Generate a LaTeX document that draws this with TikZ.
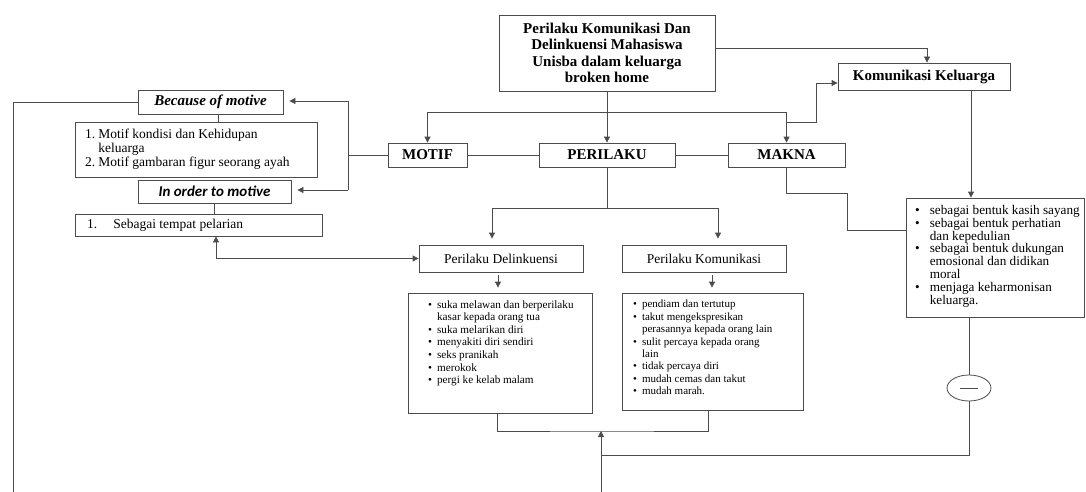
\documentclass[tikz,border=0pt]{standalone}
\usepackage{fontspec}
\setmainfont{Liberation Serif}
\newfontfamily\carl{Carlito}
\usetikzlibrary{arrows.meta,shapes.geometric}
\definecolor{linec}{gray}{0.3}
\begin{document}
\begin{tikzpicture}[x=1pt,y=-1pt,
  box/.style={draw=linec,line width=0.8pt,inner sep=0pt},
  ln/.style={draw=linec,line width=0.8pt},
  arr/.style={ln,-{Triangle[length=6pt,width=6pt]}},
  bf/.style={font=\fontsize{15}{16.5}\selectfont\bfseries},
  rm/.style={font=\fontsize{13.5}{14}\selectfont},
  txt/.style={anchor=north west,inner sep=0pt},
]
\useasboundingbox (0,0) rectangle (1086,492);

% boxes
\node[box,minimum width=216pt,minimum height=76pt,align=center,bf] (title) at (607,53)
  {Perilaku Komunikasi Dan\\Delinkuensi Mahasiswa\\Unisba dalam keluarga\\broken home};
\node[box,minimum width=172pt,minimum height=27pt,bf] (kk) at (924,76.5) {Komunikasi Keluarga};
\node[box,minimum width=136pt,minimum height=24pt,bf] (per) at (607,155) {PERILAKU};
\node[box,minimum width=79pt,minimum height=24pt,bf] (motif) at (427.5,155) {MOTIF};
\node[box,minimum width=117pt,minimum height=24pt,bf] (makna) at (786.5,155) {MAKNA};

\node[box,minimum width=145pt,minimum height=24pt,font=\fontsize{15}{16.5}\selectfont\bfseries\itshape] (because) at (210.5,102) {Because of motive};
\node[box,minimum width=242pt,minimum height=55pt] (motifbox) at (196,149.5) {};
\node[txt,rm] (motiftext) at (85,128.5)
  {\begin{tabular}{@{}l@{\hspace{3pt}}l@{}}1. & Motif kondisi dan Kehidupan\\ & keluarga\\ 2. & Motif gambaran figur seorang ayah\end{tabular}};
\node[box,minimum width=153pt,minimum height=23pt,font=\carl\fontsize{15}{16.5}\selectfont\bfseries\itshape] (inorder) at (214.5,191.5) {In order to motive};
\node[box,minimum width=247pt,minimum height=22pt] (sebagai) at (198.5,225) {};
\node[anchor=west,inner sep=0pt,rm] (sebtext) at (87,225) {1.\hspace{16pt}Sebagai tempat pelarian};

\node[box,minimum width=164pt,minimum height=27pt,rm] (pdel) at (501,258.5) {Perilaku Delinkuensi};
\node[box,minimum width=164pt,minimum height=27pt,rm] (pkom) at (704,258.5) {Perilaku Komunikasi};

\node[box,minimum width=184pt,minimum height=120pt] (ldel) at (500,353) {};
\node[txt,font=\fontsize{11.2}{12.6}\selectfont] (ldeltext) at (428,299)
  {\begin{tabular}{@{}l@{\hspace{5pt}}l@{}}
   \textbullet & suka melawan dan berperilaku\\
   & kasar kepada orang tua\\
   \textbullet & suka melarikan diri\\
   \textbullet & menyakiti diri sendiri\\
   \textbullet & seks pranikah\\
   \textbullet & merokok\\
   \textbullet & pergi ke kelab malam
   \end{tabular}};
\node[box,minimum width=181pt,minimum height=117pt] (lkom) at (712.5,351.5) {};
\node[txt,font=\fontsize{11}{12.4}\selectfont] (lkomtext) at (633,299)
  {\begin{tabular}{@{}l@{\hspace{5pt}}l@{}}
   \textbullet & pendiam dan tertutup\\
   \textbullet & takut mengekspresikan\\
   & perasannya kepada orang lain\\
   \textbullet & sulit percaya kepada orang\\
   & lain\\
   \textbullet & tidak percaya diri\\
   \textbullet & mudah cemas dan takut\\
   \textbullet & mudah marah.
   \end{tabular}};

\node[box,minimum width=178pt,minimum height=119pt] (rbox) at (995,257.5) {};
\node[txt,font=\fontsize{13.2}{12.4}\selectfont] (rtext) at (915,205)
  {\begin{tabular}{@{}l@{\hspace{10pt}}l@{}}
   \textbullet & sebagai bentuk kasih sayang\\
   \textbullet & sebagai bentuk perhatian\\
   & dan kepedulian\\
   \textbullet & sebagai bentuk dukungan\\
   & emosional dan didikan\\
   & moral\\
   \textbullet & menjaga keharmonisan\\
   & keluarga.
   \end{tabular}};

\node[draw=linec,line width=0.8pt,ellipse,minimum width=44pt,minimum height=26pt,inner sep=0pt] (circ) at (969,388) {};
\draw[ln] ([xshift=-9pt]circ.center) -- ([xshift=9pt]circ.center);

% connectors
\draw[arr] ([yshift=5pt]title.east) -| ([xshift=3pt]kk.north);
\draw[arr] (title.south) -- (per.north);
\coordinate (jR) at (786.5,112);
\draw[arr] (jR) -| (motif.north);
\draw[arr] (jR) -- (makna.north);
\coordinate (b1) at (786.5,122);
\coordinate (b2) at (816,83);
\draw[arr] (b1) -| (b2) -- (b2 -| kk.west);
\draw[ln] (motif.east) -- (per.west);
\draw[ln] (per.east) -- (makna.west);

\coordinate (v1) at (348,101);
\coordinate (v2) at (348,190);
\coordinate (v3) at (348,155);
\draw[ln] (v1) -- (v2);
\draw[arr,shorten >=6pt] (v1) -- (v1 -| because.east);
\draw[arr,shorten >=6pt] (v2) -- (v2 -| inorder.east);
\draw[ln] (v3) -- (motif.west);
\draw[ln] ([xshift=7.5pt]because.south) -- ([xshift=7.5pt]because.south |- motifbox.north);
\draw[ln] (inorder.south) -- (inorder.south |- sebagai.north);

\coordinate (L2) at (13,492);
\draw[ln] (because.west) -| (L2);

\coordinate (d1) at (216,258.5);
\draw[ln,{Triangle[length=6pt,width=6pt]}-{Triangle[length=6pt,width=6pt]}] (sebagai.south -| d1) -- (d1) -- (pdel.west);

\coordinate (pl) at (492,208);
\coordinate (pr) at (718,208);
\draw[ln] (per.south) -- (per.south |- pl);
\draw[ln] (pl) -- (pr);
\draw[arr,shorten >=6pt] (pl) -- (pl |- pdel.north);
\draw[arr,shorten >=6pt] (pr) -- (pr |- pkom.north);

\draw[arr,shorten <=3pt,shorten >=5pt] ([xshift=-3pt]pdel.south) -- ([xshift=-3pt]pdel.south |- ldel.north);
\draw[arr,shorten <=3pt,shorten >=5pt] ([xshift=8pt]pkom.south) -- ([xshift=8pt]pkom.south |- lkom.north);

\coordinate (bb) at (601,431);
\draw[ln] ([xshift=-3pt]ldel.south) |- (bb) -| ([xshift=-4.5pt]lkom.south);
\coordinate (bot) at (601,492);
\draw[arr] (bot) -- (bb);
\coordinate (h5) at (601,455);
\draw[ln] (h5) -| (circ.south);
\draw[ln] (circ.north) -- (circ.north |- rbox.south);
\draw[arr] ([xshift=47pt]kk.south) -- ([xshift=47pt]kk.south |- rbox.north);

\coordinate (m1) at (847,193);
\coordinate (m2) at (847,230);
\draw[ln] (makna.south) |- (m1) -- (m2) -- (m2 -| rbox.west);
\end{tikzpicture}
\end{document}
